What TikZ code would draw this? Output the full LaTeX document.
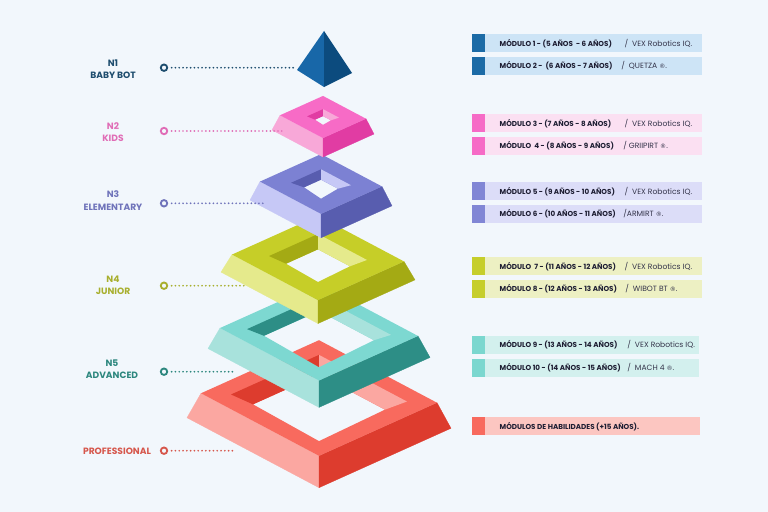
\documentclass[tikz,border=0pt]{standalone}
\usepackage{fontspec}
\setmainfont{Poppins}
\newfontfamily\symfont{DejaVu Sans}
\newcommand\regmark{{\symfont\fontsize{4.3}{5}\selectfont ®}}
\usetikzlibrary{positioning}

\definecolor{bgc}{HTML}{F2F7FC}
\definecolor{txtdk}{HTML}{1E1E33}
\definecolor{txtmd}{HTML}{34344A}
% ring faces: tp = top, lt = light side, dk = dark side
\definecolor{blult}{HTML}{1867A8}\definecolor{bludk}{HTML}{0C4B7E}
\definecolor{pnktp}{HTML}{F76BC6}\definecolor{pnklt}{HTML}{F8A8D8}\definecolor{pnkdk}{HTML}{E13CA3}
\definecolor{prptp}{HTML}{7C81D3}\definecolor{prplt}{HTML}{C6C8F6}\definecolor{prpdk}{HTML}{585DAF}
\definecolor{limtp}{HTML}{C6CE28}\definecolor{limlt}{HTML}{E5EA8C}\definecolor{limdk}{HTML}{A4AA14}
\definecolor{teatp}{HTML}{7DD8D1}\definecolor{tealt}{HTML}{A8E2DC}\definecolor{teadk}{HTML}{2D8E86}
\definecolor{redtp}{HTML}{F86A5E}\definecolor{redlt}{HTML}{FBA7A1}\definecolor{reddk}{HTML}{DD3C2E}
% module rows
\definecolor{blusq}{HTML}{1C6BA6}\definecolor{blubg}{HTML}{CDE4F6}
\definecolor{pnksq}{HTML}{F66BC6}\definecolor{pnkbg}{HTML}{FBE0F2}
\definecolor{prpsq}{HTML}{8186D5}\definecolor{prpbg}{HTML}{DCDDF8}
\definecolor{limsq}{HTML}{C6CE2B}\definecolor{limbg}{HTML}{EDF0C3}
\definecolor{teasq}{HTML}{7BD7CF}\definecolor{teabg}{HTML}{D3F0EE}
\definecolor{redsq}{HTML}{F86A5E}\definecolor{redbg}{HTML}{FCC6C1}
% level labels
\definecolor{blutx}{HTML}{1E4D6E}\definecolor{pnktx}{HTML}{E06CB6}
\definecolor{prptx}{HTML}{6F73BA}\definecolor{limtx}{HTML}{A8AF2E}
\definecolor{teatx}{HTML}{2D877E}\definecolor{redtx}{HTML}{D6574C}

\tikzset{
  lvl/.style={font=\fontsize{6.5}{8.7}\selectfont\bfseries,align=center,inner sep=0pt},
  pin/.style={circle,draw,line width=1.3pt,fill=bgc,minimum size=4.6pt,inner sep=0pt},
  dots/.style={line width=1.35pt,line cap=round,dash pattern=on 0pt off 2.7pt},
  modbg/.style={rectangle,minimum width=5.425cm,minimum height=0.45cm,inner sep=0pt,anchor=west},
  modsq/.style={rectangle,minimum width=0.32cm,minimum height=0.45cm,inner sep=0pt},
  modtxt/.style={font=\fontsize{5.1}{6}\selectfont\bfseries,text=txtdk,anchor=west,inner sep=0pt},
  subtxt/.style={font=\fontsize{5.4}{6}\selectfont,text=txtmd,anchor=west,inner sep=0pt}
}

% #1 colour prefix, #2 cx, #3 cy, #4 outer top, #5 outer base, #6 depth,
% #7 hole, #8 opening, #9 opening drop
\newcommand\ringlvl[9]{%
  \begin{scope}[shift={(#2,#3)},yslant=-0.04]
    \filldraw[#1lt,line width=0.2pt] (-#4,0) -- (0,{0.49*#4}) -- (0,{#6+0.49*#5}) -- (-#5,#6) -- cycle;
    \filldraw[#1dk,line width=0.2pt] (#4,0) -- (0,{0.49*#4}) -- (0,{#6+0.49*#5}) -- (#5,#6) -- cycle;
    \fill[#1tp,even odd rule] (-#4,0) -- (0,{-0.49*#4}) -- (#4,0) -- (0,{0.49*#4}) -- cycle
      (-#8,#9) -- (0,{#9-0.49*#8}) -- (#8,#9) -- (0,{0.49*#7}) -- cycle;
    \fill[#1dk] (-#7,0) -- (0,{-0.49*#7}) -- (0,{#9-0.49*#8}) -- (-#8,#9) -- cycle;
    \fill[#1lt] (0,{-0.49*#7}) -- (#7,0) -- (#8,#9) -- (0,{#9-0.49*#8}) -- cycle;
  \end{scope}}

\begin{document}
\begin{tikzpicture}[x=0.025cm,y=-0.025cm]
  \path[use as bounding box,fill=bgc] (0,0) rectangle (768,512);

  % stack, bottom first
  \ringlvl{red}{319}{398}{118}{132}{25}{88}{66}{9}
  \ringlvl{tea}{319}{332}{99}{111}{21}{72}{55}{6}
  \ringlvl{lim}{318}{258}{86}{97}{18}{49}{32}{7}
  \ringlvl{prp}{321}{184}{61}{71}{19}{30}{17}{4}
  \ringlvl{pnk}{323}{117}{43}{51}{15}{16}{8}{3}
  \fill[blult] (324,31) -- (297,70) -- (324,87) -- cycle;
  \fill[bludk] (324,31) -- (324,87) -- (352,73) -- cycle;

  % levels
  \node[lvl,text=blutx] (l1) at (113,69) {N1\\BABY BOT};
  \node[lvl,text=pnktx] (l2) at (113,132) {N2\\KIDS};
  \node[lvl,text=prptx] (l3) at (113,200.5) {N3\\ELEMENTARY};
  \node[lvl,text=limtx] (l4) at (113,285.5) {N4\\JUNIOR};
  \node[lvl,text=teatx] (l5) at (112,369) {N5\\ADVANCED};
  \node[lvl,text=redtx] (l6) at (117,451) {PROFESSIONAL};

  \node[pin,draw=blutx] (c1) at (164,67.7) {};
  \node[pin,draw=pnktx] (c2) at (164,131) {};
  \node[pin,draw=prptx] (c3) at (164,203.3) {};
  \node[pin,draw=limtx] (c4) at (164,285.7) {};
  \node[pin,draw=teatx] (c5) at (164,371.7) {};
  \node[pin,draw=redtx] (c6) at (164,450.7) {};

  \coordinate (e1) at (296,67.7);
  \coordinate (e2) at (282,131);
  \coordinate (e3) at (264,203.3);
  \coordinate (e4) at (247,285.7);
  \coordinate (e5) at (233,371.7);
  \coordinate (e6) at (233,450.7);

  \draw[dots,blutx] (c1.east) ++(3.5,0) -- (e1);
  \draw[dots,pnktx] (c2.east) ++(3.5,0) -- (e2);
  \draw[dots,prptx] (c3.east) ++(3.5,0) -- (e3);
  \draw[dots,limtx] (c4.east) ++(3.5,0) -- (e4);
  \draw[dots,teatx] (c5.east) ++(3.5,0) -- (e5);
  \draw[dots,redtx] (c6.east) ++(3.5,0) -- (e6);

  % modules
  \node[modbg,fill=blubg] (m1) at (485,43.3) {};
  \node[modbg,fill=blubg,below=0.1cm of m1] (m2) {};
  \node[modbg,fill=pnkbg] (m3) at (485,123.3) {};
  \node[modbg,fill=pnkbg,below=0.1cm of m3] (m4) {};
  \node[modbg,fill=prpbg] (m5) at (485,191.3) {};
  \node[modbg,fill=prpbg,below=0.1cm of m5] (m6) {};
  \node[modbg,fill=limbg] (m7) at (485,266.3) {};
  \node[modbg,fill=limbg,below=0.1cm of m7] (m8) {};
  \node[modbg,fill=teabg,minimum width=5.35cm] (m9) at (485,345) {};
  \node[modbg,fill=teabg,minimum width=5.35cm,below=0.1cm of m9] (m10) {};
  \node[modbg,fill=redbg,minimum width=5.375cm] (m11) at (485,426.3) {};

  \node[modsq,fill=blusq,left=0pt of m1] (q1) {};
  \node[modsq,fill=blusq,left=0pt of m2] (q2) {};
  \node[modsq,fill=pnksq,left=0pt of m3] (q3) {};
  \node[modsq,fill=pnksq,left=0pt of m4] (q4) {};
  \node[modsq,fill=prpsq,left=0pt of m5] (q5) {};
  \node[modsq,fill=prpsq,left=0pt of m6] (q6) {};
  \node[modsq,fill=limsq,left=0pt of m7] (q7) {};
  \node[modsq,fill=limsq,left=0pt of m8] (q8) {};
  \node[modsq,fill=teasq,left=0pt of m9] (q9) {};
  \node[modsq,fill=teasq,left=0pt of m10] (q10) {};
  \node[modsq,fill=redsq,left=0pt of m11] (q11) {};

  \node[modtxt,right=0.36cm of q1] (t1) {MÓDULO 1 - (5 AÑOS \ - 6 AÑOS)};
  \node[modtxt,right=0.36cm of q2] (t2) {MÓDULO 2 - \ (6 AÑOS - 7 AÑOS)};
  \node[modtxt,right=0.36cm of q3] (t3) {MÓDULO 3 - (7 AÑOS - 8 AÑOS)};
  \node[modtxt,right=0.36cm of q4] (t4) {MÓDULO \ 4 - (8 AÑOS - 9 AÑOS)};
  \node[modtxt,right=0.36cm of q5] (t5) {MÓDULO 5 - (9 AÑOS - 10 AÑOS)};
  \node[modtxt,right=0.36cm of q6] (t6) {MÓDULO 6 - (10 AÑOS - 11 AÑOS)};
  \node[modtxt,right=0.36cm of q7] (t7) {MÓDULO \ 7 - (11 AÑOS - 12 AÑOS)};
  \node[modtxt,right=0.36cm of q8] (t8) {MÓDULO 8 - (12 AÑOS - 13 AÑOS)};
  \node[modtxt,right=0.36cm of q9] (t9) {MÓDULO 9 - (13 AÑOS - 14 AÑOS)};
  \node[modtxt,right=0.36cm of q10] (t10) {MÓDULO 10 - (14 AÑOS - 15 AÑOS)};
  \node[modtxt,right=0.36cm of q11] (t11) {MÓDULOS DE HABILIDADES (+15 AÑOS).};

  \node[subtxt,right=3.48cm of q1] (s1) {/ \ VEX Robotics IQ.};
  \node[subtxt,right=3.4cm of q2] (s2) {/ \ QUETZA \regmark.};
  \node[subtxt,right=3.48cm of q3] (s3) {/ \ VEX Robotics IQ.};
  \node[subtxt,right=3.45cm of q4] (s4) {/ GRIIPIRT \regmark.};
  \node[subtxt,right=3.48cm of q5] (s5) {/ \ VEX Robotics IQ.};
  \node[subtxt,right=3.45cm of q6] (s6) {/ARMIRT \regmark.};
  \node[subtxt,right=3.48cm of q7] (s7) {/ \ VEX Robotics IQ.};
  \node[subtxt,right=3.5cm of q8] (s8) {/ \ WIBOT BT \regmark.};
  \node[subtxt,right=3.55cm of q9] (s9) {/ \ VEX Robotics IQ.};
  \node[subtxt,right=3.55cm of q10] (s10) {/ \ MACH 4 \regmark.};
\end{tikzpicture}
\end{document}
